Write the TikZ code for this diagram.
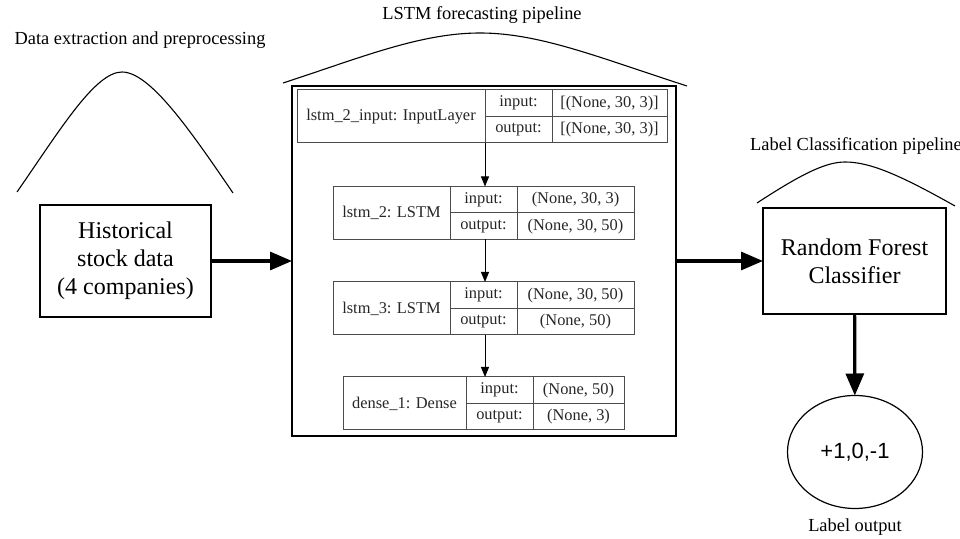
\documentclass[tikz,border=0pt]{standalone}
\usepackage{fontspec}
\setmainfont{Liberation Serif}
\setsansfont{Liberation Sans}
\usetikzlibrary{positioning,arrows.meta,shapes.geometric}

\begin{document}
\begin{tikzpicture}[x=0.5pt,y=-0.5pt,
  bigbox/.style={draw,line width=0.6pt,align=center,outer sep=0pt,font=\fontsize{12}{14}\selectfont},
  head/.style={font=\fontsize{9.2}{11}\selectfont},
  cell/.style={draw=black!70,line width=0.5pt,inner sep=0pt,outer sep=0pt,text=black!85,
    minimum height=13.25pt,font=\fontsize{8.2}{9}\selectfont},
  namecell/.style={cell,minimum height=26.5pt},
  fat/.style={-{Triangle[length=11pt,width=9pt]},line width=1.6pt},
  thinarr/.style={-{Triangle[length=5pt,width=4pt]},line width=0.5pt},
  roof/.style={line width=0.55pt}]

\useasboundingbox (0,0) rectangle (960,539);

% headings
\node[head] (hd1) at (140,40) {Data extraction and preprocessing};
\node[head] (hd2) at (482,15) {LSTM forecasting pipeline};
\node[head] (hd3) at (856,146) {Label Classification pipeline};
\node[head] (hd4) at (855,527) {Label output};

% roofs
\draw[roof] (17,192) .. controls (60,130) and (95,72) .. (122,72) .. controls (150,72) and (190,130) .. (233,193);
\draw[roof] (283,83) .. controls (360,58) and (420,33) .. (480,33) .. controls (540,33) and (600,58) .. (687,86);
\draw[roof] (757,203) .. controls (800,175) and (825,162) .. (845,162) .. controls (870,162) and (900,175) .. (955,206);

% main boxes
\node[bigbox,minimum width=85.5pt,minimum height=56pt] (hist) at (125.5,261) {Historical\\stock data\\(4 companies)};
\node[draw,line width=0.6pt,outer sep=0pt,minimum width=192pt,minimum height=175pt] (lstm) at (484,261) {};
\node[bigbox,minimum width=91.5pt,minimum height=53pt] (rf) at (854.5,261) {Random Forest\\Classifier};
\node[draw,ellipse,line width=0.6pt,outer sep=0pt,minimum width=67.5pt,minimum height=56.5pt,
  font=\sffamily\fontsize{11}{13}\selectfont] (lab) at (855,452) {+1,0,-1};

% keras layers
\node[namecell,minimum width=94pt] (t1) at (391,116.5) {lstm\_2\_input: InputLayer};
\node[cell,minimum width=33.5pt,anchor=north west] (t1i) at (t1.north east) {input:};
\node[cell,minimum width=33.5pt,anchor=north west] (t1o) at (t1i.south west) {output:};
\node[cell,minimum width=57.5pt,anchor=north west] (t1a) at (t1i.north east) {[(None, 30, 3)]};
\node[cell,minimum width=57.5pt,anchor=north west] (t1b) at (t1a.south west) {[(None, 30, 3)]};

\node[namecell,minimum width=58.5pt] (t2) at (391.5,213) {lstm\_2: LSTM};
\node[cell,minimum width=33.5pt,anchor=north west] (t2i) at (t2.north east) {input:};
\node[cell,minimum width=33.5pt,anchor=north west] (t2o) at (t2i.south west) {output:};
\node[cell,minimum width=58.5pt,anchor=north west] (t2a) at (t2i.north east) {(None, 30, 3)};
\node[cell,minimum width=58.5pt,anchor=north west] (t2b) at (t2a.south west) {(None, 30, 50)};

\node[namecell,minimum width=58.5pt] (t3) at (391.5,308.5) {lstm\_3: LSTM};
\node[cell,minimum width=33.5pt,anchor=north west] (t3i) at (t3.north east) {input:};
\node[cell,minimum width=33.5pt,anchor=north west] (t3o) at (t3i.south west) {output:};
\node[cell,minimum width=58.5pt,anchor=north west] (t3a) at (t3i.north east) {(None, 30, 50)};
\node[cell,minimum width=58.5pt,anchor=north west] (t3b) at (t3a.south west) {(None, 50)};

\node[namecell,minimum width=61.5pt] (t4) at (404.5,403.5) {dense\_1: Dense};
\node[cell,minimum width=33.5pt,anchor=north west] (t4i) at (t4.north east) {input:};
\node[cell,minimum width=33.5pt,anchor=north west] (t4o) at (t4i.south west) {output:};
\node[cell,minimum width=45.5pt,anchor=north west] (t4a) at (t4i.north east) {(None, 50)};
\node[cell,minimum width=45.5pt,anchor=north west] (t4b) at (t4a.south west) {(None, 3)};

\draw[thinarr] (t1.south east) -- (t1.south east |- t2.north);
\draw[thinarr] (t1.south east |- t2.south) -- (t1.south east |- t3.north);
\draw[thinarr] (t1.south east |- t3.south) -- (t1.south east |- t4.north);

% flow
\draw[fat] (hist) -- (lstm);
\draw[fat] (lstm) -- (rf);
\draw[fat] (rf) -- (lab);

\end{tikzpicture}
\end{document}
